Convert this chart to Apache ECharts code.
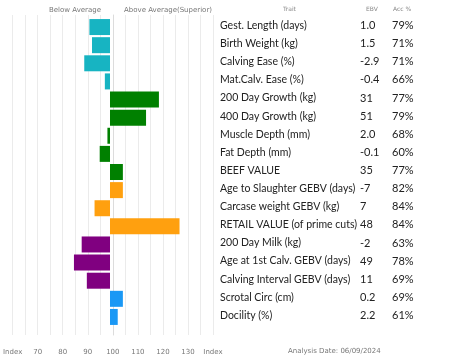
<!DOCTYPE html>
<html>
<head>
<meta charset="utf-8">
<style>
html,body{margin:0;padding:0;background:#fff;}
#c{width:453px;height:362px;}
</style>
<script src="https://cdn.jsdelivr.net/npm/echarts@6/dist/echarts.min.js"></script>
</head>
<body>
<div id="c"></div>
<script>
const traits = ["Gest. Length (days)","Birth Weight (kg)","Calving Ease (%)","Mat.Calv. Ease (%)","200 Day Growth (kg)","400 Day Growth (kg)","Muscle Depth (mm)","Fat Depth (mm)","BEEF VALUE","Age to Slaughter GEBV (days)","Carcase weight GEBV (kg)","RETAIL VALUE (of prime cuts)","200 Day Milk (kg)","Age at 1st Calv. GEBV (days)","Calving Interval GEBV (days)","Scrotal Circ (cm)","Docility (%)"];
const ebv = ["1.0","1.5","-2.9","-0.4","31","51","2.0","-0.1","35","-7","7","48","-2","49","11","0.2","2.2"];
const acc = ["79%","71%","71%","66%","77%","79%","68%","60%","77%","82%","84%","84%","63%","78%","69%","69%","61%"];
const indexValues = [92,93,90,98,119,114,99,96,105,105,94,127,89,86,91,105,103];
const groups = ["a","a","a","a","b","b","b","b","b","c","c","c","d","d","d","e","e"];
const groupColors = {a:"#17b4c2", b:"#008000", c:"#ffa00f", d:"#800080", e:"#1a98f5"};
const tickLabels = {"-40":"Index","-30":"70","-20":"80","-10":"90","0":"100","10":"110","20":"120","30":"130","40":"Index"};

const F = 'Lato';
const chart = echarts.init(document.getElementById('c'));
chart.setOption({
  animation:false,
  backgroundColor:'#fff',
  grid:[
    {left:7, width:206, top:15, bottom:27},
    {left:7, width:206, top:18, bottom:36}
  ],
  xAxis:[
    {gridIndex:0, type:'value', min:-40, max:40, interval:5,
     axisLine:{show:false}, axisTick:{show:false},
     splitLine:{show:true, lineStyle:{color:'#ebebeb', width:1}},
     axisLabel:{fontSize:7, color:'#777', fontFamily:'DejaVu Sans', margin:14,
       formatter:v=>tickLabels[String(v)]||''}},
    {gridIndex:1, type:'value', min:-40, max:40, show:false, splitLine:{show:false}}
  ],
  yAxis:[
    {gridIndex:0, type:'value', position:'right', min:0, max:1, show:true,
     axisLine:{show:true, lineStyle:{color:'#dcdcdc'}}, axisTick:{show:false}, axisLabel:{show:false}, splitLine:{show:false}},
    {gridIndex:1, type:'category', data:traits, inverse:true, position:'right',
     axisLine:{show:false}, axisTick:{show:false}, splitLine:{show:false},
     axisLabel:{margin:7, align:'left', fontFamily:F, fontSize:10.5, color:'#222',
       formatter:(v,i)=>'{t|'+v+'}{e|'+ebv[i]+'}{a|'+acc[i]+'}',
       rich:{
         t:{width:140, fontSize:10.5, fontFamily:F, color:'#222', padding:[0,0,3,0]},
         e:{width:32, fontSize:11, fontFamily:F, color:'#222', padding:[0,0,3,0]},
         a:{fontSize:11, fontFamily:F, color:'#222', padding:[0,0,3,0]}
       }}}
  ],
  series:[{
    type:'bar', xAxisIndex:1, yAxisIndex:1, barWidth:16,
    data:indexValues.map((v,i)=>({value:v-100, itemStyle:{color:groupColors[groups[i]]}}))
  }],
  graphic:[
    {type:'text', left:49, top:7, style:{text:'Below Average', fontSize:7, fill:'#777', fontFamily:'DejaVu Sans'}},
    {type:'text', left:124, top:7, style:{text:'Above Average(Superior)', fontSize:7, fill:'#777', fontFamily:'DejaVu Sans'}},
    {type:'text', left:283, top:6, style:{text:'Trait', fontSize:6, fill:'#888', fontFamily:'DejaVu Sans'}},
    {type:'text', left:366, top:6, style:{text:'EBV', fontSize:6, fill:'#888', fontFamily:'DejaVu Sans'}},
    {type:'text', left:393, top:6, style:{text:'Acc %', fontSize:6, fill:'#888', fontFamily:'DejaVu Sans'}},
    {type:'text', left:288, top:348, style:{text:'Analysis Date: 06/09/2024', fontSize:7, fill:'#777', fontFamily:'DejaVu Sans'}}
  ]
});
</script>
</body>
</html>
